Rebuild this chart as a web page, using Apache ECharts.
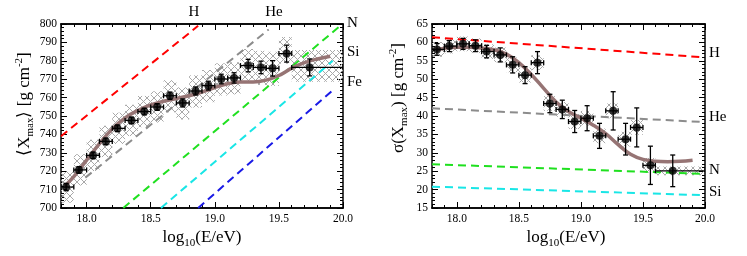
<!DOCTYPE html>
<html>
<head>
<meta charset="utf-8">
<script src="https://cdn.jsdelivr.net/npm/echarts@6/dist/echarts.min.js"></script>
<style>
html,body{margin:0;padding:0;background:#fff;}
#chart{width:747px;height:256px;}
</style>
</head>
<body>
<div id="chart"></div>
<script>
// ---------- DATA ----------
const energy = [17.84, 17.94, 18.05, 18.15, 18.24, 18.35, 18.45, 18.55, 18.65, 18.75, 18.85, 18.95, 19.05, 19.15, 19.26, 19.36, 19.45, 19.56, 19.74];
const binLow  = [17.8, 17.9, 18.0, 18.1, 18.2, 18.3, 18.4, 18.5, 18.6, 18.7, 18.8, 18.9, 19.0, 19.1, 19.2, 19.3, 19.4, 19.5, 19.6];
const binHigh = [17.9, 18.0, 18.1, 18.2, 18.3, 18.4, 18.5, 18.6, 18.7, 18.8, 18.9, 19.0, 19.1, 19.2, 19.3, 19.4, 19.5, 19.6, 20.0];

const xmaxMean = [711.4, 720.7, 728.6, 736.2, 743.3, 747.6, 752.4, 754.9, 761.0, 757.1, 763.6, 766.5, 770.1, 770.7, 777.4, 776.4, 775.9, 783.9, 776.4];
const xmaxStat = [2.0, 1.8, 1.8, 1.8, 1.8, 1.8, 1.8, 1.8, 2.0, 2.2, 2.2, 2.4, 2.6, 2.8, 3.4, 3.4, 4.2, 4.6, 4.6];
const xmaxSysUp  = [8.5, 8.5, 8.5, 8.5, 8.5, 8.5, 8.5, 8.5, 8.5, 8.5, 8.5, 8.5, 8.5, 8.5, 9, 9, 9, 9, 9.5];
const xmaxSysLow = [8.5, 8.5, 8.5, 8.5, 8.5, 8.5, 8.5, 8.5, 9, 9, 9, 9, 9, 9, 9.5, 9.5, 9.5, 5.5, 7.8];

const sigmaMean = [58.1, 59.0, 59.6, 59.1, 57.5, 56.6, 53.9, 51.1, 54.5, 43.4, 41.8, 38.5, 39.4, 34.6, 41.4, 33.7, 36.9, 26.6, 25.1];
const sigmaStat = [1.6, 1.5, 1.5, 1.6, 1.7, 1.9, 2.2, 2.3, 3.0, 2.5, 2.5, 3.0, 3.4, 3.4, 5.2, 4.3, 5.3, 5.2, 4.3];
const sigmaSys  = [2.0, 2.0, 2.0, 2.0, 2.0, 2.0, 2.0, 2.0, 2.0, 2.0, 2.0, 2.0, 2.0, 2.0, 2.0, 2.0, 2.0, 2.0, 1.2];

// fit curves
const fitX      = [17.83, 17.9, 18.0, 18.1, 18.2, 18.3, 18.4, 18.5, 18.6, 18.7, 18.8, 18.9, 19.0, 19.1, 19.2, 19.3, 19.4, 19.5, 19.6, 19.7, 19.8, 19.9];
const fitXmax   = [712, 717, 726, 735, 743, 749, 753, 756, 758, 759.5, 761, 763, 765.5, 767.5, 768.5, 768.5, 769.5, 772, 776, 779, 781, 782.5];
const fitSigma  = [57.9, 58.4, 58.7, 58.7, 58.5, 58.0, 56.8, 54.5, 51.3, 47.5, 43.8, 41.2, 39.4, 37.5, 35.2, 32.2, 29.6, 28.2, 27.7, 27.6, 27.7, 28.0];

// pure-composition predictions (start, end)
const compNames  = ['H', 'He', 'N', 'Si', 'Fe'];
const compColors = ['#ff0000', '#8c8c8c', '#1fe01f', '#19e6e6', '#1a1ae6'];
const xmaxLineX  = [[17.8, 18.87], [17.99, 19.42], [18.286, 19.97], [18.58, 19.92], [18.87, 19.92]];
const xmaxLineY  = [[739, 799], [716.5, 797], [700, 798.5], [700, 780], [700, 764]];
const sigLineX   = [[17.8, 19.97], [17.8, 19.97], [17.8, 19.97], [17.8, 19.97]];
const sigLineY   = [[61.4, 56.0], [42.1, 38.4], [26.9, 24.3], [20.8, 18.5]];

// axis ticks
const xMajorTicks = [18.0, 18.5, 19.0, 19.5, 20.0];

// ---------- STYLE HELPERS ----------
const FONT = 'Liberation Serif';
const hatch = document.createElement('canvas');
hatch.width = 7; hatch.height = 7;
(function(){
  const c = hatch.getContext('2d');
  c.strokeStyle = '#a8a8a8'; c.lineWidth = 1;
  c.beginPath();
  c.moveTo(0, 0); c.lineTo(7, 7);
  c.moveTo(7, 0); c.lineTo(0, 7);
  c.stroke();
})();
const hatchFill = { image: hatch, repeat: 'repeat' };

function xAxes(gridIndex) {
  const base = { gridIndex, type: 'value', min: 17.8, max: 20.0, splitLine: { show: false },
    axisLine: { show: true, onZero: false, lineStyle: { color: '#000', width: 1.5 } } };
  return [
    Object.assign({}, base, { position: 'bottom', interval: 0.1,
      axisTick: { show: true, inside: true, length: 3, lineStyle: { color: '#000' } }, axisLabel: { show: false } }),
    Object.assign({}, base, { position: 'bottom',
      axisTick: { show: true, inside: true, length: 6, customValues: xMajorTicks, lineStyle: { color: '#000' } },
      axisLabel: { show: true, customValues: xMajorTicks, margin: 5, fontFamily: FONT, fontSize: 11.5, color: '#000',
        formatter: v => Number(v).toFixed(1) } }),
    Object.assign({}, base, { position: 'top', interval: 0.1,
      axisTick: { show: true, inside: true, length: 3, lineStyle: { color: '#000' } }, axisLabel: { show: false } }),
    Object.assign({}, base, { position: 'top',
      axisTick: { show: true, inside: true, length: 6, customValues: xMajorTicks, lineStyle: { color: '#000' } },
      axisLabel: { show: false } })
  ];
}
function yAxes(gridIndex, min, max, interval) {
  const base = { gridIndex, type: 'value', min, max, interval, splitLine: { show: false },
    axisLine: { show: true, onZero: false, lineStyle: { color: '#000', width: 1.5 } },
    axisTick: { show: true, inside: true, length: 6, lineStyle: { color: '#000' } },
    minorTick: { show: true, splitNumber: 5, length: 3, lineStyle: { color: '#000' } } };
  return [
    Object.assign({}, base, { position: 'left',
      axisLabel: { show: true, margin: 4, fontFamily: FONT, fontSize: 11.5, color: '#000' } }),
    Object.assign({}, base, { position: 'right', axisLabel: { show: false } })
  ];
}

function boxSeries(xi, yi, mean, up, low) {
  return {
    type: 'custom', xAxisIndex: xi, yAxisIndex: yi, clip: true, z: 1, silent: true,
    data: mean.map((m, i) => [binLow[i], binHigh[i], m + up[i], m - low[i]]),
    encode: { x: [0, 1], y: [2, 3] },
    renderItem: (params, api) => {
      const p1 = api.coord([api.value(0), api.value(2)]);
      const p2 = api.coord([api.value(1), api.value(3)]);
      return { type: 'rect', shape: { x: p1[0], y: p1[1], width: p2[0] - p1[0], height: p2[1] - p1[1] },
        style: { fill: hatchFill, stroke: null } };
    }
  };
}
function errSeries(xi, yi, mean, stat) {
  return {
    type: 'custom', xAxisIndex: xi, yAxisIndex: yi, clip: true, z: 5, silent: true,
    data: mean.map((m, i) => [energy[i], m, binLow[i], binHigh[i], m - stat[i], m + stat[i]]),
    encode: { x: [0, 2, 3], y: [1, 4, 5] },
    renderItem: (params, api) => {
      const c = api.coord([api.value(0), api.value(1)]);
      const xl = api.coord([api.value(2), api.value(1)])[0];
      const xh = api.coord([api.value(3), api.value(1)])[0];
      const yl = api.coord([api.value(0), api.value(4)])[1];
      const yh = api.coord([api.value(0), api.value(5)])[1];
      const st = { stroke: '#000', lineWidth: 1.3 };
      const cap = 2.5;
      return { type: 'group', children: [
        { type: 'line', shape: { x1: xl, y1: c[1], x2: xh, y2: c[1] }, style: st },
        { type: 'line', shape: { x1: xl, y1: c[1] - cap, x2: xl, y2: c[1] + cap }, style: st },
        { type: 'line', shape: { x1: xh, y1: c[1] - cap, x2: xh, y2: c[1] + cap }, style: st },
        { type: 'line', shape: { x1: c[0], y1: yl, x2: c[0], y2: yh }, style: st },
        { type: 'line', shape: { x1: c[0] - cap, y1: yl, x2: c[0] + cap, y2: yl }, style: st },
        { type: 'line', shape: { x1: c[0] - cap, y1: yh, x2: c[0] + cap, y2: yh }, style: st }
      ] };
    }
  };
}
function pointSeries(xi, yi, mean) {
  return { type: 'scatter', xAxisIndex: xi, yAxisIndex: yi, z: 6, symbol: 'circle', symbolSize: 8,
    itemStyle: { color: '#000' }, data: mean.map((m, i) => [energy[i], m]) };
}
function fitSeries(xi, yi, ys) {
  return { type: 'line', xAxisIndex: xi, yAxisIndex: yi, z: 4, smooth: 0.4, showSymbol: false, symbol: 'none',
    lineStyle: { color: '#967474', width: 3.5 }, data: fitX.map((x, i) => [x, ys[i]]) };
}
function compSeries(xi, yi, xs, ys, color) {
  return { type: 'line', xAxisIndex: xi, yAxisIndex: yi, z: 3, showSymbol: false, symbol: 'none',
    lineStyle: { color, width: 2, type: [8, 5] }, data: xs.map((x, i) => [x, ys[i]]) };
}

const series = [];
series.push(boxSeries(0, 0, xmaxMean, xmaxSysUp, xmaxSysLow));
xmaxLineX.forEach((xs, k) => series.push(compSeries(0, 0, xs, xmaxLineY[k], compColors[k])));
series.push(fitSeries(0, 0, fitXmax));
series.push(errSeries(0, 0, xmaxMean, xmaxStat));
series.push(pointSeries(0, 0, xmaxMean));

series.push(boxSeries(4, 2, sigmaMean, sigmaSys, sigmaSys));
sigLineX.forEach((xs, k) => series.push(compSeries(4, 2, xs, sigLineY[k], compColors[k])));
series.push(fitSeries(4, 2, fitSigma));
series.push(errSeries(4, 2, sigmaMean, sigmaStat));
series.push(pointSeries(4, 2, sigmaMean));

const labelStyle = (text, x, y, align) => ({ type: 'text', x, y, silent: true,
  style: { text, fontFamily: FONT, fontSize: 15, fill: '#000', align: align || 'left', verticalAlign: 'middle' } });

const richBase = {
  a: { fontFamily: FONT, fontSize: 17, lineHeight: 22, fill: '#000', verticalAlign: 'middle' },
  s: { fontFamily: FONT, fontSize: 11, fill: '#000', verticalAlign: 'bottom' },
  p: { fontFamily: FONT, fontSize: 11, fill: '#000', verticalAlign: 'top' }
};
const titleText = (text, x, y, rot) => ({ type: 'text', x, y, rotation: rot || 0, silent: true,
  style: { text, rich: richBase, fontFamily: FONT, fontSize: 17, fill: '#000', align: 'center', verticalAlign: 'middle' } });

const option = {
  animation: false,
  backgroundColor: '#fff',
  grid: [
    { left: 61, top: 24, width: 282, height: 184, containLabel: false },
    { left: 432, top: 24, width: 273, height: 184, containLabel: false }
  ],
  xAxis: [].concat(xAxes(0), xAxes(1)),
  yAxis: [].concat(yAxes(0, 700, 800, 10), yAxes(1, 15, 65, 5)),
  series,
  graphic: [
    labelStyle(compNames[0], 194, 12, 'center'),
    labelStyle(compNames[1], 274, 12, 'center'),
    labelStyle(compNames[2], 347, 23),
    labelStyle(compNames[3], 347, 52),
    labelStyle(compNames[4], 347, 82),
    labelStyle(compNames[0], 709, 53),
    labelStyle(compNames[1], 709, 117),
    labelStyle(compNames[2], 709, 170),
    labelStyle(compNames[3], 709, 192),
    titleText('{a|log}{s|10}{a|(E/eV)}', 202, 238),
    titleText('{a|log}{s|10}{a|(E/eV)}', 566, 238),
    titleText('{a|⟨X}{s|max}{a|⟩ [g cm}{p|-2}{a|]}', 25, 104, Math.PI / 2),
    titleText('{a|σ(X}{s|max}{a|) [g cm}{p|-2}{a|]}', 399, 98, Math.PI / 2)
  ]
};

const chart = echarts.init(document.getElementById('chart'), null, { renderer: 'canvas' });
chart.setOption(option);
</script>
</body>
</html>
